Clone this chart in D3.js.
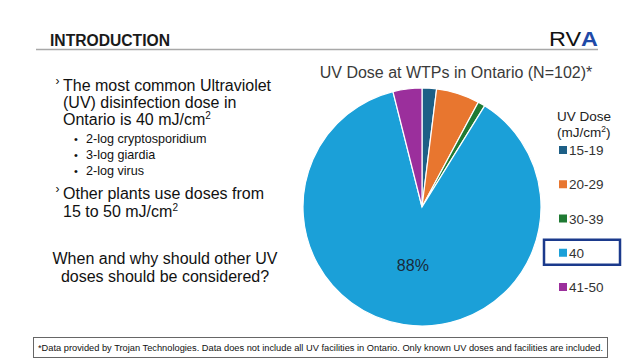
<!DOCTYPE html>
<html><head><meta charset="utf-8">
<script src="https://cdn.jsdelivr.net/npm/d3@7/dist/d3.min.js"></script>
<style>
html,body{margin:0;padding:0;background:#fff;}
svg{display:block;font-family:"Liberation Sans",Arial,sans-serif;}
</style></head>
<body>
<svg id="c" width="640" height="360"></svg>
<script>
const categories = ["15-19", "20-29", "30-39", "40", "41-50"];
const counts = [2, 6, 1, 89, 4];
const sliceLabels = ["", "", "", "88%", ""];
const colors = ["#1d5f86", "#e8762f", "#1f7a33", "#1ba0d8", "#9b2f9c"];
const chartTitle = "UV Dose at WTPs in Ontario (N=102)*";

const svg = d3.select("#c");

// Header
svg.append("text").attr("x", 50).attr("y", 46).attr("font-size", 16).attr("font-weight", "bold")
  .attr("fill", "#1a1a1a").attr("textLength", 120).attr("lengthAdjust", "spacingAndGlyphs").text("INTRODUCTION");
svg.append("line").attr("x1", 36).attr("x2", 598).attr("y1", 49.5).attr("y2", 49.5)
  .attr("stroke", "#a8a8a8").attr("stroke-width", 1.5);
// Logo
const logo = svg.append("text").attr("x", 549).attr("y", 46).attr("font-size", 21)
  .attr("textLength", 49).attr("lengthAdjust", "spacingAndGlyphs");
logo.append("tspan").attr("fill", "#111").text("RV");
logo.append("tspan").attr("fill", "#1f4aa8").attr("font-weight", "bold").text("A");

// Left text
const L = svg.append("g").attr("fill", "#111");
const BF = 16;
function big(x, y, t) { return L.append("text").attr("x", x).attr("y", y).attr("font-size", BF).text(t); }
function arrow(x, y) { L.append("text").attr("x", x).attr("y", y).attr("font-size", 12).text("›"); }
arrow(55.5, 85);
big(63, 91, "The most common Ultraviolet");
big(63, 108, "(UV) disinfection dose in");
const l3 = big(63, 125, "Ontario is 40 mJ/cm");
l3.append("tspan").attr("font-size", 10).attr("dy", -6).text("2");
const subs = ["2-log cryptosporidium", "3-log giardia", "2-log virus"];
subs.forEach((s, i) => {
  L.append("text").attr("x", 74).attr("y", 143 + i * 16).attr("font-size", 11).text("•");
  L.append("text").attr("x", 86).attr("y", 143 + i * 16).attr("font-size", 12.6).text(s);
});
arrow(55.5, 193);
big(63, 199, "Other plants use doses from");
const l5 = big(63, 217, "15 to 50 mJ/cm");
l5.append("tspan").attr("font-size", 10).attr("dy", -6).text("2");
L.append("text").attr("x", 165).attr("y", 264).attr("font-size", BF).attr("text-anchor", "middle").text("When and why should other UV");
L.append("text").attr("x", 165).attr("y", 282).attr("font-size", BF).attr("text-anchor", "middle").text("doses should be considered?");

// Chart title
svg.append("text").attr("x", 456).attr("y", 78).attr("text-anchor", "middle").attr("font-size", 16)
  .attr("fill", "#3a3a3a").text(chartTitle);

// Pie
const cx = 422, cy = 207, r = 119;
const pie = d3.pie().sort(null).value(d => d)(counts);
const arc = d3.arc().innerRadius(0).outerRadius(r);
const g = svg.append("g").attr("transform", `translate(${cx},${cy})`);
g.selectAll("path").data(pie).join("path")
  .attr("d", arc).attr("fill", (d, i) => colors[i])
  .attr("stroke", "#fff").attr("stroke-width", 1.2);
g.selectAll("text.lbl").data(pie).join("text").attr("class", "lbl")
  .attr("transform", d => `translate(${arc.centroid(d)})`)
  .attr("text-anchor", "middle").attr("dy", "0.35em").attr("font-size", 16)
  .attr("fill", "#1a2a3a").text((d, i) => sliceLabels[i]);

// Legend
const lg = svg.append("g");
lg.append("text").attr("x", 557).attr("y", 121).attr("font-size", 13.5).attr("fill", "#222").text("UV Dose");
const lt = lg.append("text").attr("x", 557).attr("y", 137).attr("font-size", 13.5).attr("fill", "#222").text("(mJ/cm");
lt.append("tspan").attr("font-size", 8.5).attr("dy", -5).text("2");
lt.append("tspan").attr("dy", 5).text(")");
const ly = d3.scalePoint().domain(categories).range([150, 287]);
categories.forEach((c, i) => {
  lg.append("rect").attr("x", 559).attr("y", ly(c) - 4).attr("width", 8).attr("height", 8).attr("fill", colors[i]);
  lg.append("text").attr("x", 569).attr("y", ly(c) + 5).attr("font-size", 13.5).attr("fill", "#333").text(c);
});
lg.append("rect").attr("x", 544).attr("y", ly("40") - 13).attr("width", 76).attr("height", 25)
  .attr("fill", "none").attr("stroke", "#1b3a8c").attr("stroke-width", 2.5);

// Footer
svg.append("rect").attr("x", 33.5).attr("y", 337.5).attr("width", 574).attr("height", 20)
  .attr("fill", "#fff").attr("stroke", "#666").attr("stroke-width", 1);
svg.append("text").attr("x", 38).attr("y", 351).attr("font-size", 9.6).attr("fill", "#111")
  .attr("textLength", 565).attr("lengthAdjust", "spacingAndGlyphs")
  .text("*Data provided by Trojan Technologies. Data does not include all UV facilities in Ontario. Only known UV doses and facilities are included.");
</script>
</body></html>
